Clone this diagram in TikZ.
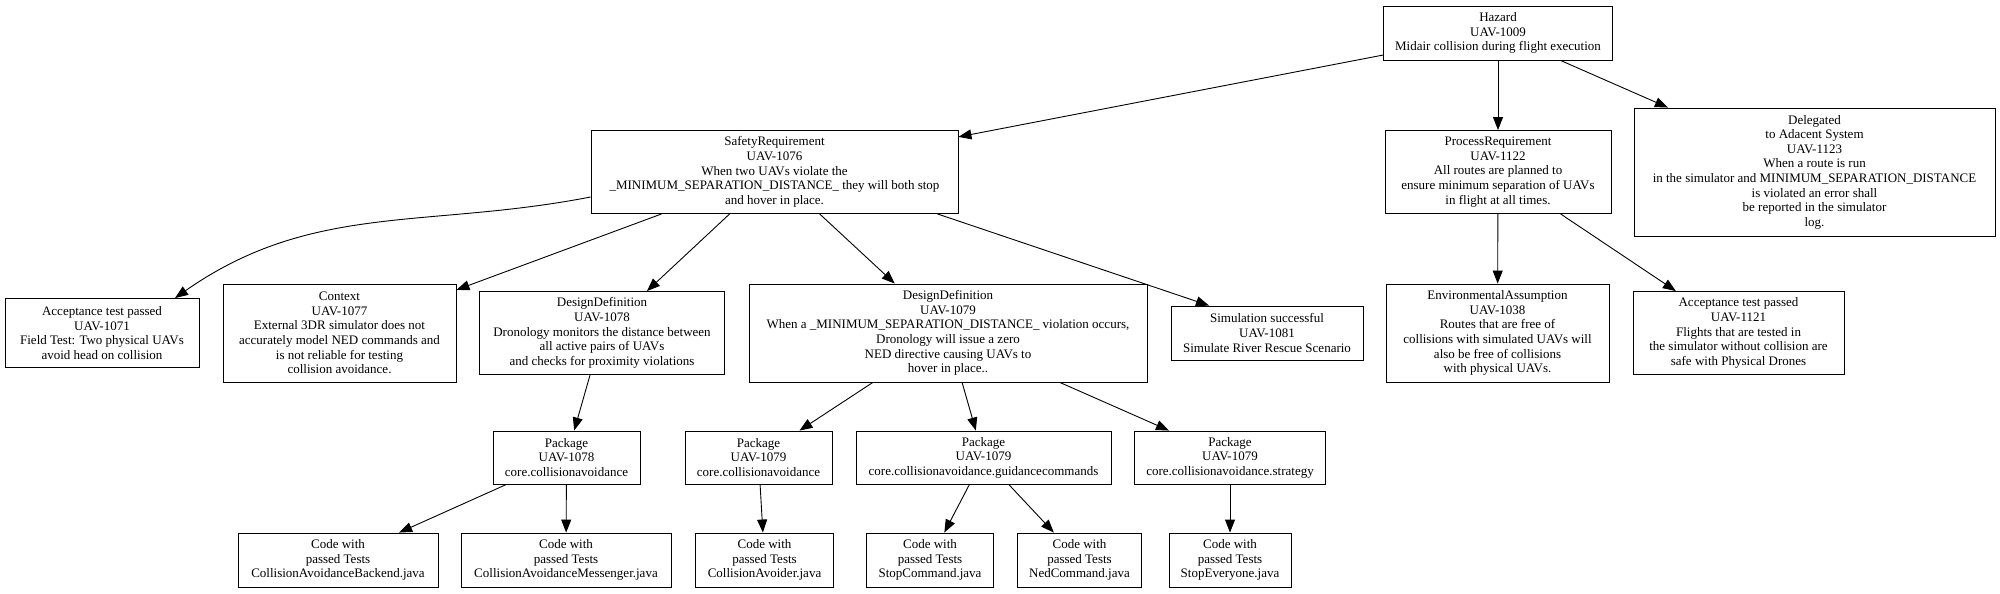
\documentclass[tikz,border=0pt]{standalone}
\usepackage{fontspec}
\setmainfont{Liberation Serif}
\usepackage{tikz}
\usetikzlibrary{arrows.meta}
\tikzset{
    reqbox/.style={rectangle, draw, line width=0.9pt, align=center, inner sep=2pt,
        font=\fontsize{13}{14.6}\selectfont},
    trace/.style={line width=0.9pt, -{Triangle[length=13pt, width=10pt]}}
}

\begin{document}
\begin{tikzpicture}[x=1pt, y=-1pt]
    \useasboundingbox (0,0) rectangle (2000,594);
    \node[reqbox, minimum width=229pt, minimum height=54pt] (haz) at (1498,33) {Hazard\\UAV-1009\\Midair collision during flight execution};
    \node[reqbox, minimum width=367pt, minimum height=83pt] (sr) at (774.5,172) {SafetyRequirement\\UAV-1076\\When two UAVs violate the\\\_MINIMUM\_SEPARATION\_DISTANCE\_ they will both stop\\and hover in place.};
    \node[reqbox, minimum width=226pt, minimum height=83pt] (pr) at (1498,172) {ProcessRequirement\\UAV-1122\\All routes are planned to\\ensure minimum separation of UAVs\\in flight at all times.};
    \node[reqbox, minimum width=361pt, minimum height=128pt] (dele) at (1814.5,172) {Delegated\\to Adacent System\\UAV-1123\\When a route is run\\in the simulator and MINIMUM\_SEPARATION\_DISTANCE\\is violated an error shall\\be reported in the simulator\\log.};

    \node[reqbox, minimum width=194pt, minimum height=69pt] (acca) at (102,333) {Acceptance test passed\\UAV-1071\\Field Test: Two physical UAVs\\avoid head on collision};
    \node[reqbox, minimum width=233pt, minimum height=98pt] (ctx) at (339.5,333) {Context\\UAV-1077\\External 3DR simulator does not\\accurately model NED commands and\\is not reliable for testing\\collision avoidance.};
    \node[reqbox, minimum width=245pt, minimum height=83pt] (dda) at (602,333) {DesignDefinition\\UAV-1078\\Dronology monitors the distance between\\all active pairs of UAVs\\and checks for proximity violations};
    \node[reqbox, minimum width=398pt, minimum height=98pt] (ddb) at (948,333) {DesignDefinition\\UAV-1079\\When a \_MINIMUM\_SEPARATION\_DISTANCE\_ violation occurs,\\Dronology will issue a zero\\NED directive causing UAVs to\\hover in place..};
    \node[reqbox, minimum width=192pt, minimum height=54pt] (sim) at (1267,333) {Simulation successful\\UAV-1081\\Simulate River Rescue Scenario};
    \node[reqbox, minimum width=223pt, minimum height=98pt] (env) at (1497.5,333) {EnvironmentalAssumption\\UAV-1038\\Routes that are free of\\collisions with simulated UAVs will\\also be free of collisions\\with physical UAVs.};
    \node[reqbox, minimum width=211pt, minimum height=83pt] (accb) at (1738.5,333) {Acceptance test passed\\UAV-1121\\Flights that are tested in\\the simulator without collision are\\safe with Physical Drones};

    \node[reqbox, minimum width=147pt, minimum height=53pt] (pkga) at (566.5,457.5) {Package\\UAV-1078\\core.collisionavoidance};
    \node[reqbox, minimum width=147pt, minimum height=53pt] (pkgb) at (758.5,457.5) {Package\\UAV-1079\\core.collisionavoidance};
    \node[reqbox, minimum width=255pt, minimum height=53pt] (pkgc) at (983.5,457.5) {Package\\UAV-1079\\core.collisionavoidance.guidancecommands};
    \node[reqbox, minimum width=191pt, minimum height=53pt] (pkgd) at (1230,457.5) {Package\\UAV-1079\\core.collisionavoidance.strategy};

    \node[reqbox, minimum width=200pt, minimum height=54pt] (backend) at (338,560) {Code with\\passed Tests\\CollisionAvoidanceBackend.java};
    \node[reqbox, minimum width=210pt, minimum height=54pt] (messenger) at (566,560) {Code with\\passed Tests\\CollisionAvoidanceMessenger.java};
    \node[reqbox, minimum width=138pt, minimum height=54pt] (avoider) at (764.5,560) {Code with\\passed Tests\\CollisionAvoider.java};
    \node[reqbox, minimum width=127pt, minimum height=54pt] (stopcmd) at (930,560) {Code with\\passed Tests\\StopCommand.java};
    \node[reqbox, minimum width=124pt, minimum height=54pt] (nedcmd) at (1079.5,560) {Code with\\passed Tests\\NedCommand.java};
    \node[reqbox, minimum width=122pt, minimum height=54pt] (stopall) at (1230,560) {Code with\\passed Tests\\StopEveryone.java};

    \draw[trace] (haz) -- (sr);
    \draw[trace] (haz) -- (pr);
    \draw[trace] (haz) -- (dele);
    \draw[trace] ([yshift=-25pt]sr.west) to[out=191, in=35] ([xshift=73pt]acca.north);
    \draw[trace] (sr) -- (ctx);
    \draw[trace] (sr) -- (dda);
    \draw[trace] (sr) -- (ddb);
    \draw[trace] ([xshift=163pt]sr.south) -- ([xshift=-58pt]sim.north);
    \draw[trace] (pr) -- (env);
    \draw[trace] (pr) -- (accb);
    \draw[trace] (dda) -- (pkga);
    \draw[trace] (ddb) -- (pkgb);
    \draw[trace] (ddb) -- (pkgc);
    \draw[trace] (ddb) -- (pkgd);
    \draw[trace] (pkga) -- (backend);
    \draw[trace] (pkga) -- (messenger);
    \draw[trace] (pkgb) -- (avoider);
    \draw[trace] (pkgc) -- (stopcmd);
    \draw[trace] (pkgc) -- (nedcmd);
    \draw[trace] (pkgd) -- (stopall);
\end{tikzpicture}
\end{document}
